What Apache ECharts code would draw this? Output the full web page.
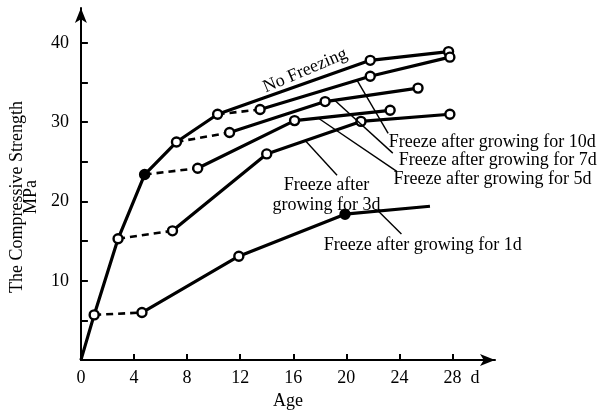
<!DOCTYPE html>
<html>
<head>
<meta charset="utf-8">
<script src="https://cdn.jsdelivr.net/npm/echarts@6/dist/echarts.min.js"></script>
<style>
  html, body { margin: 0; padding: 0; background: #fff; }
  #chart { width: 607px; height: 415px; }
</style>
</head>
<body>
<div id="chart"></div>
<script>
// Age (days) and compressive strength (MPa) for each curing history.
// For the frozen series the first two points span the frozen period.
const noFreezeAge      = [0, 1.0, 2.8, 4.8, 7.2, 10.3, 21.8, 27.7];
const noFreezeStrength = [0, 5.7, 15.3, 23.4, 27.5, 31.0, 37.8, 38.9];

const freeze10Age      = [10.3, 13.5, 21.8, 27.8];
const freeze10Strength = [31.0, 31.6, 35.8, 38.2];

const freeze7Age       = [7.2, 11.2, 18.4, 25.4];
const freeze7Strength  = [27.5, 28.7, 32.6, 34.3];

const freeze5Age       = [4.8, 8.8, 16.1, 23.3];
const freeze5Strength  = [23.4, 24.2, 30.2, 31.5];

const freeze3Age       = [2.8, 6.9, 14.0, 21.1, 27.8];
const freeze3Strength  = [15.3, 16.3, 26.0, 30.1, 31.0];

const freeze1Age       = [1.0, 4.6, 11.9, 19.9, 26.3];
const freeze1Strength  = [5.7, 6.0, 13.1, 18.4, 19.4];

const xTickLabels = [0, 4, 8, 12, 16, 20, 24, 28];
const yTickLabels = [10, 20, 30, 40];
const yMinorTicks = [5, 10, 15, 20, 25, 30, 35, 40];

const FONT = '"Liberation Serif", "DejaVu Serif", serif';
const INK = '#000';

function pairs(ages, vals) {
  return ages.map((a, i) => [a, vals[i]]);
}

// point markers: open circles by default, filled dots and hidden ends where listed
function styled(points, filled, hidden) {
  return points.map((p, i) => {
    if (hidden.indexOf(i) >= 0) return { value: p, symbol: 'none' };
    if (filled.indexOf(i) >= 0) return { value: p, itemStyle: { color: INK } };
    return { value: p };
  });
}

function solidSeries(name, points, filled, hidden) {
  return {
    name: name,
    type: 'line',
    data: styled(points, filled || [], hidden || []),
    symbol: 'circle',
    symbolSize: 9,
    showAllSymbol: true,
    lineStyle: { color: INK, width: 3.2 },
    itemStyle: { color: '#fff', borderColor: INK, borderWidth: 2.4 },
    z: 3,
    animation: false
  };
}

function dashedSeries(name, points) {
  return {
    name: name + ' (frozen)',
    type: 'line',
    data: points,
    symbol: 'none',
    lineStyle: { color: INK, width: 2.6, type: [7, 5] },
    z: 2,
    animation: false
  };
}

function frozenPair(name, ages, vals, filled, hidden) {
  const pts = pairs(ages, vals);
  return [
    dashedSeries(name, pts.slice(0, 2)),
    solidSeries(name, pts.slice(1), filled, hidden)
  ];
}

const series = [solidSeries('No Freezing', pairs(noFreezeAge, noFreezeStrength), [3], [0])]
  .concat(frozenPair('Freeze after growing for 10d', freeze10Age, freeze10Strength))
  .concat(frozenPair('Freeze after growing for 7d', freeze7Age, freeze7Strength))
  .concat(frozenPair('Freeze after growing for 5d', freeze5Age, freeze5Strength))
  .concat(frozenPair('Freeze after growing for 3d', freeze3Age, freeze3Strength))
  .concat(frozenPair('Freeze after growing for 1d', freeze1Age, freeze1Strength, [2], [3]));

const chart = echarts.init(document.getElementById('chart'), null, { renderer: 'canvas' });

chart.setOption({
  backgroundColor: '#fff',
  animation: false,
  grid: { left: 80, right: 112, top: 8, bottom: 47 },
  xAxis: {
    type: 'value',
    min: 0,
    max: 31.2,
    name: 'Age',
    nameLocation: 'middle',
    nameGap: 27,
    nameTextStyle: { fontFamily: FONT, fontSize: 18, color: INK },
    axisLine: { lineStyle: { color: INK, width: 2 }, symbol: ['none', 'arrow'], symbolSize: [9, 15] },
    axisTick: { inside: true, length: 6, lineStyle: { color: INK, width: 2 }, customValues: xTickLabels.slice(1) },
    axisLabel: {
      customValues: xTickLabels.concat([29.7]),
      formatter: v => (v > 28 ? 'd' : String(v)),
      fontFamily: FONT, fontSize: 18, color: INK, margin: 9
    },
    splitLine: { show: false }
  },
  yAxis: {
    type: 'value',
    min: 0,
    max: 44.4,
    name: 'The Compressive Strength\nMPa',
    nameLocation: 'middle',
    nameGap: 37,
    nameRotate: 90,
    nameTextStyle: { fontFamily: FONT, fontSize: 18, color: INK, lineHeight: 14, padding: [0, 26, 0, 0] },
    axisLine: { lineStyle: { color: INK, width: 2 }, symbol: ['none', 'arrow'], symbolSize: [9, 15] },
    axisTick: { inside: true, length: 7, lineStyle: { color: INK, width: 2 }, customValues: yMinorTicks },
    axisLabel: { customValues: yTickLabels, fontFamily: FONT, fontSize: 18, color: INK, margin: 12 },
    splitLine: { show: false }
  },
  series: series
});

// Callouts, given in axis units and placed through the grid's scales.
const leaders = [
  [[20.8, 35.3], [23.15, 28.6]],
  [[19.1, 32.8], [23.5, 26.1]],
  [[17.9, 30.5], [23.8, 23.8]],
  [[16.9, 27.7], [19.3, 23.3]],
  [[22.4, 18.8], [24.15, 15.9]]
];
const notes = [
  { text: 'Freeze after growing for 10d', at: [23.2, 27.5], align: 'left' },
  { text: 'Freeze after growing for 7d', at: [23.95, 25.2], align: 'left' },
  { text: 'Freeze after growing for 5d', at: [23.55, 22.8], align: 'left' },
  { text: 'Freeze after\ngrowing for 3d', at: [18.5, 20.8], align: 'center' },
  { text: 'Freeze after growing for 1d', at: [18.3, 14.5], align: 'left' },
  { text: 'No Freezing', at: [16.9, 36.5], align: 'center', rotate: 23 }
];

const px = p => chart.convertToPixel({ gridIndex: 0 }, p);
const graphics = [];
leaders.forEach(l => {
  const a = px(l[0]), b = px(l[1]);
  graphics.push({
    type: 'line',
    shape: { x1: a[0], y1: a[1], x2: b[0], y2: b[1] },
    style: { stroke: INK, lineWidth: 1.4 },
    z: 10
  });
});
notes.forEach(n => {
  const p = px(n.at);
  graphics.push({
    type: 'text',
    x: p[0], y: p[1],
    rotation: (n.rotate || 0) * Math.PI / 180,
    style: {
      text: n.text,
      fill: INK,
      font: '18px ' + FONT,
      align: n.align,
      verticalAlign: 'middle',
      lineHeight: 20
    },
    z: 10
  });
});
chart.setOption({ graphic: graphics });
</script>
</body>
</html>
